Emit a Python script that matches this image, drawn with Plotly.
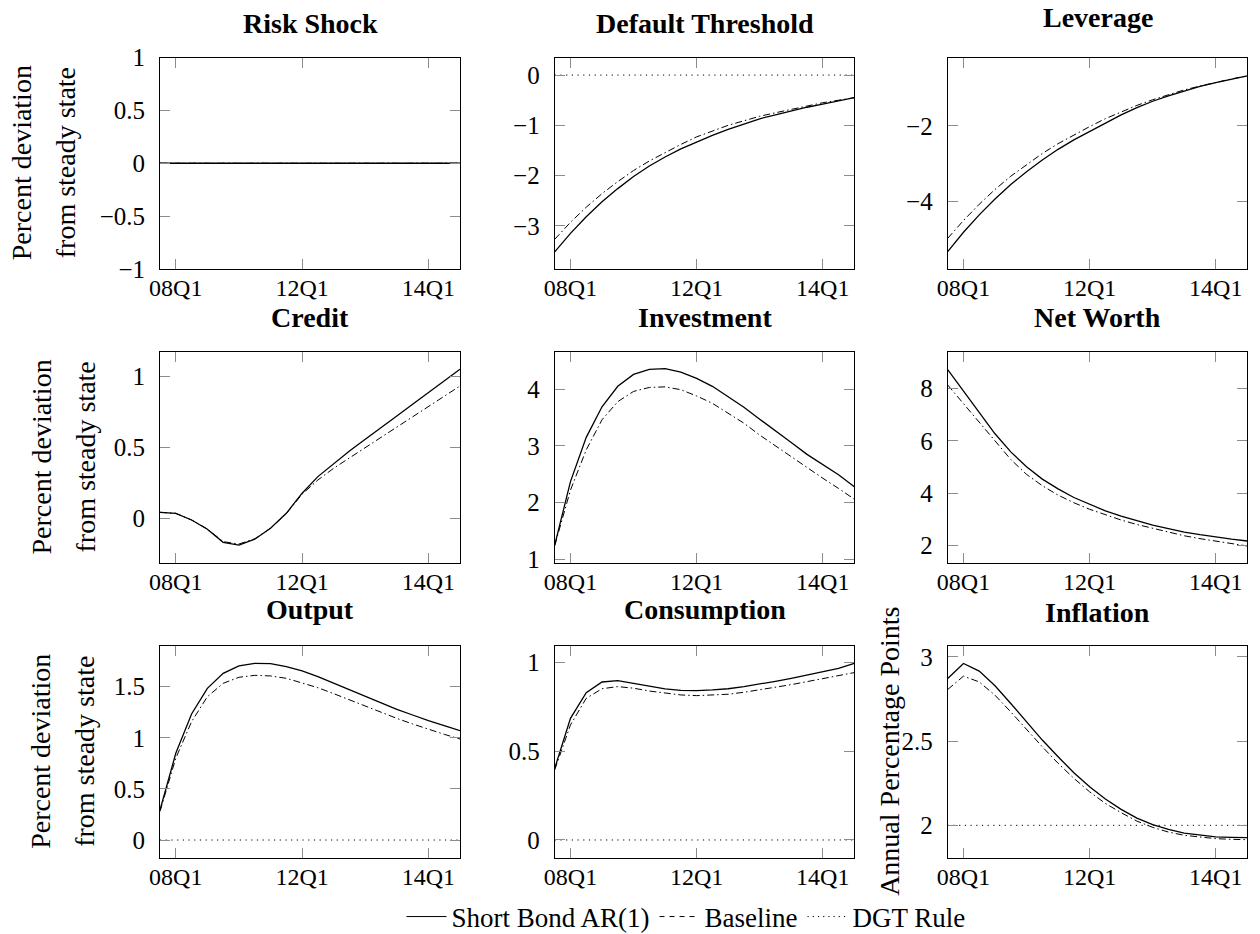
import plotly.graph_objects as go

# ---------------- data ----------------
quarters = list(range(1, 21))
x_tick_vals = [2, 10, 18]
x_tick_text = ["08Q1", "12Q1", "14Q1"]

panel_titles = ["Risk Shock", "Default Threshold", "Leverage",
                "Credit", "Investment", "Net Worth",
                "Output", "Consumption", "Inflation"]
series_names = ["Short Bond AR(1)", "Baseline", "DGT Rule"]

risk_short = [0, 0, 0, 0, 0, 0, 0, 0, 0, 0, 0, 0, 0, 0, 0, 0, 0, 0, 0, 0]
risk_base = [0, 0, 0, 0, 0, 0, 0, 0, 0, 0, 0, 0, 0, 0, 0, 0, 0, 0, 0, 0]
risk_dgt = [0, 0, 0, 0, 0, 0, 0, 0, 0, 0, 0, 0, 0, 0, 0, 0, 0, 0, 0, 0]

default_short = [-3.52, -3.15, -2.82, -2.52, -2.26, -2.02, -1.81, -1.63, -1.47, -1.33,
                 -1.20, -1.08, -0.97, -0.87, -0.79, -0.71, -0.64, -0.58, -0.51, -0.45]
default_base = [-3.27, -2.93, -2.63, -2.36, -2.12, -1.90, -1.71, -1.54, -1.38, -1.23,
                -1.11, -1.00, -0.91, -0.82, -0.75, -0.68, -0.61, -0.55, -0.50, -0.45]
default_dgt = [0, 0, 0, 0, 0, 0, 0, 0, 0, 0, 0, 0, 0, 0, 0, 0, 0, 0, 0, 0]

leverage_short = [-5.32, -4.81, -4.35, -3.93, -3.55, -3.21, -2.90, -2.62, -2.37, -2.15,
                  -1.92, -1.71, -1.52, -1.35, -1.21, -1.08, -0.96, -0.86, -0.76, -0.68]
leverage_base = [-4.97, -4.50, -4.07, -3.68, -3.33, -3.02, -2.73, -2.47, -2.24, -2.02,
                 -1.81, -1.63, -1.46, -1.31, -1.18, -1.05, -0.95, -0.85, -0.76, -0.68]

credit_short = [0.042, 0.035, -0.012, -0.078, -0.170, -0.189, -0.148, -0.071, 0.035, 0.177,
                0.294, 0.388, 0.475, 0.558, 0.643, 0.722, 0.805, 0.887, 0.972, 1.052]
credit_base = [0.042, 0.035, -0.012, -0.076, -0.165, -0.182, -0.145, -0.070, 0.033, 0.170,
               0.270, 0.353, 0.426, 0.499, 0.572, 0.645, 0.720, 0.793, 0.864, 0.934]

invest_short = [1.25, 2.37, 3.15, 3.69, 4.05, 4.26, 4.35, 4.36, 4.30, 4.19,
                4.05, 3.87, 3.68, 3.47, 3.27, 3.06, 2.85, 2.67, 2.49, 2.28]
invest_base = [1.24, 2.22, 2.93, 3.46, 3.78, 3.96, 4.03, 4.04, 3.99, 3.88,
               3.75, 3.58, 3.40, 3.19, 3.00, 2.81, 2.61, 2.43, 2.25, 2.06]

networth_short = [8.72, 7.91, 7.08, 6.27, 5.58, 5.01, 4.54, 4.17, 3.84, 3.58,
                  3.33, 3.13, 2.95, 2.79, 2.65, 2.52, 2.42, 2.33, 2.25, 2.18]
networth_base = [8.13, 7.43, 6.73, 6.03, 5.29, 4.72, 4.29, 3.93, 3.64, 3.39,
                 3.17, 2.98, 2.81, 2.66, 2.51, 2.38, 2.27, 2.18, 2.09, 1.99]

output_short = [0.294, 0.848, 1.233, 1.484, 1.631, 1.703, 1.729, 1.725, 1.696, 1.654,
                1.598, 1.533, 1.468, 1.402, 1.337, 1.279, 1.223, 1.167, 1.119, 1.070]
output_base = [0.280, 0.800, 1.158, 1.402, 1.533, 1.592, 1.611, 1.605, 1.582, 1.539,
               1.490, 1.432, 1.370, 1.311, 1.249, 1.190, 1.135, 1.083, 1.034, 0.988]
output_dgt = [0, 0, 0, 0, 0, 0, 0, 0, 0, 0, 0, 0, 0, 0, 0, 0, 0, 0, 0, 0]

cons_short = [0.404, 0.686, 0.831, 0.891, 0.899, 0.884, 0.865, 0.852, 0.844, 0.842,
              0.846, 0.853, 0.865, 0.878, 0.895, 0.912, 0.931, 0.949, 0.968, 0.996]
cons_base = [0.395, 0.649, 0.799, 0.853, 0.865, 0.856, 0.840, 0.827, 0.818, 0.814,
             0.816, 0.822, 0.833, 0.846, 0.861, 0.876, 0.893, 0.910, 0.927, 0.944]
cons_dgt = [0, 0, 0, 0, 0, 0, 0, 0, 0, 0, 0, 0, 0, 0, 0, 0, 0, 0, 0, 0]

infl_short = [2.871, 2.960, 2.915, 2.828, 2.723, 2.614, 2.506, 2.407, 2.312, 2.229,
              2.156, 2.095, 2.043, 2.004, 1.976, 1.954, 1.941, 1.932, 1.929, 1.927]
infl_base = [2.806, 2.885, 2.851, 2.772, 2.673, 2.569, 2.466, 2.368, 2.279, 2.199,
             2.130, 2.075, 2.025, 1.988, 1.960, 1.941, 1.929, 1.921, 1.917, 1.915]
infl_dgt = [2, 2, 2, 2, 2, 2, 2, 2, 2, 2, 2, 2, 2, 2, 2, 2, 2, 2, 2, 2]

y_ranges = [[-1, 1], [-3.86, 0.35], [-5.78, -0.195],
            [-0.318, 1.176], [0.93, 4.66], [1.33, 9.40],
            [-0.173, 1.898], [-0.10, 1.094], [1.808, 3.064]]
y_ticks = [[-1, -0.5, 0, 0.5, 1], [-3, -2, -1, 0], [-4, -2],
           [0, 0.5, 1], [1, 2, 3, 4], [2, 4, 6, 8],
           [0, 0.5, 1, 1.5], [0, 0.5, 1], [2, 2.5, 3]]

panel_series = [
    (risk_short, risk_base, risk_dgt),
    (default_short, default_base, default_dgt),
    (leverage_short, leverage_base, None),
    (credit_short, credit_base, None),
    (invest_short, invest_base, None),
    (networth_short, networth_base, None),
    (output_short, output_base, output_dgt),
    (cons_short, cons_base, cons_dgt),
    (infl_short, infl_base, infl_dgt),
]

# ---------------- layout constants ----------------
W, H = 1260, 934
FONT = "Liberation Serif"
col_px = [(160, 460), (554.7, 854.3), (947.7, 1247.3)]
row_px = [(57.5, 269), (351.7, 563.3), (646, 857.7)]
# title baseline offset above plot top (larger when glyphs have descenders)
title_off = [23.5, 23.5, 29, 23.5, 23.5, 23.5, 26.5, 26.5, 23.5]

styles = [dict(color="black", width=1.3),
          dict(color="black", width=1.0, dash="7px,3px,1.5px,3px"),
          dict(color="black", width=1.0, dash="1.2px,4.5px")]


def fmt(v):
    return ("%g" % v).replace("-", "\u2212")


fig = go.Figure()
annotations = []
layout = {}
for k in range(9):
    r, c = divmod(k, 3)
    n = "" if k == 0 else str(k + 1)
    xa, ya = "x" + n, "y" + n
    for s, ys in enumerate(panel_series[k]):
        if ys is None:
            continue
        fig.add_trace(go.Scatter(x=quarters, y=ys, mode="lines", line=styles[s],
                                 xaxis=xa, yaxis=ya, showlegend=False,
                                 hoverinfo="skip"))
    x0, x1 = col_px[c]
    yt, yb = row_px[r]
    common = dict(ticks="inside", ticklen=10, tickwidth=1, tickcolor="#8c8c8c",
                  mirror="allticks", showline=True, linecolor="black", linewidth=1,
                  showgrid=False, zeroline=False, automargin=False)
    layout["xaxis" + n] = dict(domain=[x0 / W, x1 / W], anchor=ya, range=[1, 20],
                               tickvals=x_tick_vals, ticktext=x_tick_text,
                               ticklabelstandoff=-3,
                               tickfont=dict(family=FONT, size=24, color="black"),
                               **common)
    layout["yaxis" + n] = dict(domain=[1 - yb / H, 1 - yt / H], anchor=xa,
                               range=y_ranges[k], tickvals=y_ticks[k],
                               ticktext=[fmt(v) for v in y_ticks[k]],
                               ticklabelstandoff=9,
                               tickfont=dict(family=FONT, size=25, color="black"),
                               **common)
    # title
    base = yt - title_off[k]
    annotations.append(dict(text="<b>%s</b>" % panel_titles[k], xref="paper", yref="paper",
                            x=(x0 + x1) / 2 / W, y=1 - (base + 7) / H,
                            xanchor="center", yanchor="bottom", showarrow=False,
                            font=dict(family=FONT, size=28, color="black")))
    # y labels
    ymid = 1 - (yt + yb) / 2 / H
    if c == 0:
        shift = -20 if r == 0 else 0
        for txt, xc in (("Percent deviation", 41), ("from steady state", 85)):
            annotations.append(dict(text=txt, xref="paper", yref="paper",
                                    x=(xc + shift) / W, y=ymid, textangle=-90,
                                    xanchor="center", yanchor="middle", showarrow=False,
                                    font=dict(family=FONT, size=28, color="black")))
    if k == 8:
        annotations.append(dict(text="Annual Percentage Points", xref="paper", yref="paper",
                                x=890 / W, y=ymid, textangle=-90,
                                xanchor="center", yanchor="middle", showarrow=False,
                                font=dict(family=FONT, size=28, color="black")))

# legend entries (legend shows plain dashed style for Baseline)
legend_styles = [dict(color="black", width=1.0),
                 dict(color="black", width=1.0, dash="5px,5px"),
                 dict(color="black", width=1.0, dash="1.2px,4px")]
for s in range(3):
    fig.add_trace(go.Scatter(x=[None], y=[None], mode="lines", name=series_names[s],
                             line=legend_styles[s], showlegend=True))

fig.update_layout(
    template="none",
    width=W, height=H, margin=dict(l=0, r=0, t=0, b=0, autoexpand=False),
    paper_bgcolor="white", plot_bgcolor="white",
    font=dict(family=FONT, size=25, color="black"),
    annotations=annotations,
    showlegend=True,
    legend=dict(orientation="h", x=686 / W, xanchor="center", y=1 - 917 / H,
                yanchor="middle", font=dict(family=FONT, size=27, color="black"),
                bgcolor="rgba(0,0,0,0)", itemwidth=40, tracegroupgap=0),
    **layout,
)

fig.write_html("out.html")
